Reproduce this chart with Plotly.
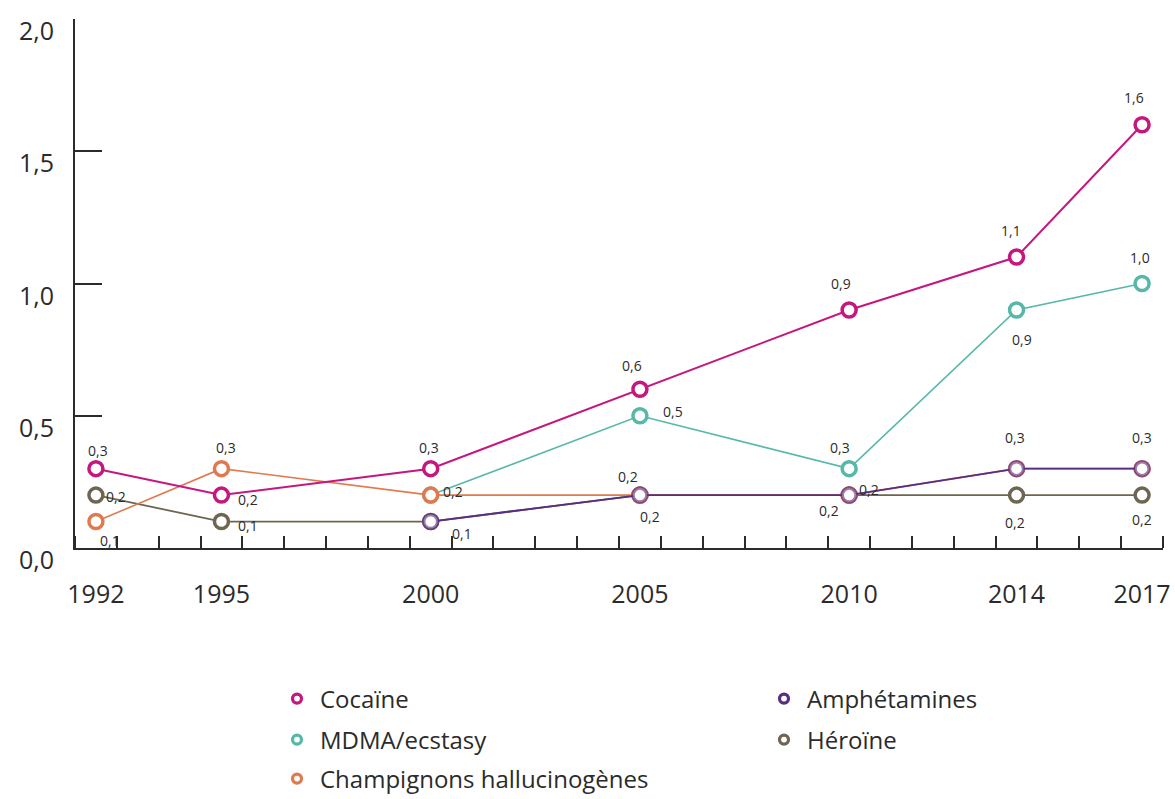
import plotly.graph_objects as go

# ---- data -------------------------------------------------------------
years_all = [1992, 1995, 2000, 2005, 2010, 2014, 2017]
years_recent = [2000, 2005, 2010, 2014, 2017]

cocaine = [0.3, 0.2, 0.3, 0.6, 0.9, 1.1, 1.6]
mdma = [0.2, 0.5, 0.3, 0.9, 1.0]
champignons = [0.1, 0.3, 0.2, 0.2, 0.2, 0.3, 0.3]
amphetamines = [0.1, 0.2, 0.2, 0.3, 0.3]
heroine = [0.2, 0.1, 0.1, 0.2, 0.2, 0.2, 0.2]

y_ticks = [0.0, 0.5, 1.0, 1.5, 2.0]
y_tick_text = ["0,0", "0,5", "1,0", "1,5", "2,0"]
x_tick_text = [str(y) for y in years_all]

# ---- styling ------------------------------------------------------------
FONT = "Open Sans"
TEXT = "#2b2b2b"
AXIS = "#2b2b2b"

series = [
    # name, years, values, line colour, ring colour, line width
    ("MDMA/ecstasy", years_recent, mdma, "#55b8a9", "#55b8a9", 1.6),
    ("Héroïne", years_all, heroine, "#6e6652", "#6e6652", 1.8),
    ("Champignons hallucinogènes", years_all, champignons, "#e07a4e", "#e07a4e", 1.6),
    ("Amphétamines", years_recent, amphetamines, "#5a2d84",
     "rgba(90,45,132,0.62)", 1.8),
    ("Cocaïne", years_all, cocaine, "#c4177f", "#c4177f", 2.0),
]

# value-label offsets (pixels) for each point; None = no label
label_offsets = {
    "Cocaïne": [(2, 18), (27, -4), (-2, 21), (-8, 24), (-8, 26), (-6, 27), (-8, 27)],
    "MDMA/ecstasy": [None, (33, 4), (-9, 21), (5, -30), (-2, 26)],
    "Champignons hallucinogènes": [(14, -19), (5, 21), (22, 4), (-12, 19),
                                   (-20, -15), (-2, 31), (0, 31)],
    "Amphétamines": [(31, -12), None, (20, 6), None, None],
    "Héroïne": [(20, -1), (27, -4), None, (10, -21), None, (-2, -27), (0, -24)],
}

fig = go.Figure()

for name, xs, ys, color, ring, lw in series:
    fig.add_trace(go.Scatter(
        x=xs, y=ys, mode="lines+markers", name=name, showlegend=False,
        line=dict(color=color, width=lw),
        marker=dict(symbol="circle", size=14, color="white",
                    line=dict(color=ring, width=3.5)),
        hoverinfo="skip",
    ))

# legend entries: one small legend per entry, laid out in two columns
legend_slots = {
    "Cocaïne": ("legend", 274, 699),
    "MDMA/ecstasy": ("legend2", 274, 740),
    "Champignons hallucinogènes": ("legend3", 274, 779),
    "Amphétamines": ("legend4", 761, 699),
    "Héroïne": ("legend5", 761, 740),
}

PLOT_L, PLOT_R, PLOT_T, PLOT_B = 75, 1163, 19, 548
W, H = 1175, 799


def px_to_paper(px, py):
    return ((px - PLOT_L) / (PLOT_R - PLOT_L),
            (PLOT_B - py) / (PLOT_B - PLOT_T))


legend_layouts = {}
for name, xs, ys, color, ring, lw in series:
    key, lx, ly = legend_slots[name]
    fig.add_trace(go.Scatter(
        x=[None], y=[None], mode="markers", name=name, legend=key,
        marker=dict(symbol="circle", size=9, color="white",
                    line=dict(color=color, width=3.2)),
    ))
    px, py = px_to_paper(lx, ly)
    legend_layouts[key] = dict(
        x=px, y=py, xanchor="left", yanchor="middle",
        bgcolor="rgba(0,0,0,0)", borderwidth=0, itemwidth=36,
        font=dict(family=FONT, size=24, color=TEXT),
    )

# value labels
annotations = []
for name, xs, ys, color, ring, lw in series:
    for x, y, off in zip(xs, ys, label_offsets[name]):
        if off is None:
            continue
        annotations.append(dict(
            x=x, y=y, xref="x", yref="y", showarrow=False,
            text=f"{y:.1f}".replace(".", ","),
            xshift=off[0], yshift=off[1],
            font=dict(family=FONT, size=14, color=TEXT),
        ))

# y tick labels, set slightly below their ticks
for v, t in zip(y_ticks, y_tick_text):
    annotations.append(dict(
        x=0, y=v, xref="paper", yref="y", showarrow=False,
        xanchor="right", yanchor="middle", xshift=-19, yshift=-11,
        text=t, font=dict(family=FONT, size=25, color=TEXT),
    ))

minor_ticks = [1991.5 + k for k in range(27)]

fig.update_layout(
    width=W, height=H,
    margin=dict(l=PLOT_L, r=W - PLOT_R, t=PLOT_T, b=H - PLOT_B,
                autoexpand=False),
    paper_bgcolor="white", plot_bgcolor="white",
    font=dict(family=FONT, color=TEXT),
    annotations=annotations,
    xaxis=dict(
        range=[1991.5, 2017.5], showgrid=False, zeroline=False,
        showline=True, linecolor=AXIS, linewidth=2,
        tickmode="array", tickvals=years_all, ticktext=x_tick_text,
        ticks="", ticklabelstandoff=23,
        tickfont=dict(family=FONT, size=25, color=TEXT),
        minor=dict(tickmode="array", tickvals=minor_ticks, ticks="inside",
                   ticklen=12, tickwidth=1.6, tickcolor=AXIS, showgrid=False),
    ),
    yaxis=dict(
        range=[0, 2.0], showgrid=False, zeroline=False,
        showline=True, linecolor=AXIS, linewidth=2,
        tickmode="array", tickvals=y_ticks, showticklabels=False,
        ticks="inside", ticklen=27, tickwidth=1.6, tickcolor=AXIS,
    ),
    **legend_layouts,
)

fig.write_html("out.html")
